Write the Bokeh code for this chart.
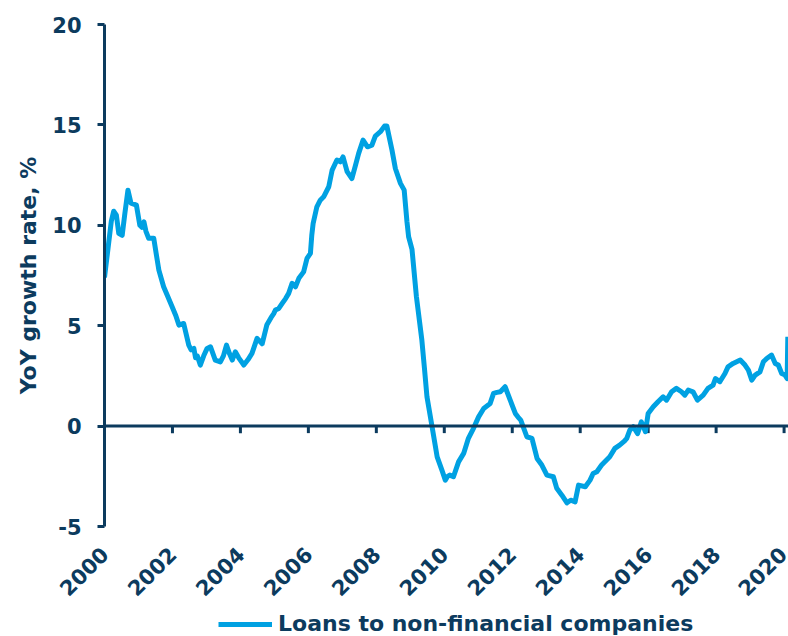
import math
from bokeh.plotting import figure
from bokeh.layouts import column
from bokeh.models import FixedTicker, Span, Legend, LegendItem, ColumnDataSource, Range1d
from bokeh.embed import file_html
from bokeh.resources import INLINE

# ---- data ----
years = [
    2000.00, 2000.10, 2000.20, 2000.27, 2000.35, 2000.42, 2000.52, 2000.60, 2000.69, 2000.78,
    2000.94, 2001.04, 2001.10, 2001.16, 2001.22, 2001.30, 2001.45, 2001.52, 2001.60, 2001.74,
    2001.85, 2001.99, 2002.10, 2002.19, 2002.33, 2002.48, 2002.55, 2002.63, 2002.68, 2002.73,
    2002.82, 2002.92, 2003.02, 2003.12, 2003.26, 2003.41, 2003.50, 2003.59, 2003.68, 2003.76,
    2003.85, 2003.95, 2004.10, 2004.22, 2004.34, 2004.49, 2004.64, 2004.78, 2004.90, 2004.98,
    2005.03, 2005.13, 2005.23, 2005.33, 2005.42, 2005.52, 2005.62, 2005.72, 2005.86, 2005.96,
    2006.06, 2006.10, 2006.14, 2006.25, 2006.35, 2006.45, 2006.60, 2006.70, 2006.84, 2006.94,
    2007.02, 2007.14, 2007.28, 2007.38, 2007.48, 2007.61, 2007.74, 2007.87, 2007.97, 2008.12,
    2008.24, 2008.31, 2008.46, 2008.56, 2008.71, 2008.82, 2008.90, 2008.95, 2009.05, 2009.18,
    2009.34, 2009.42, 2009.49, 2009.64, 2009.79, 2009.93, 2010.03, 2010.10, 2010.16, 2010.27,
    2010.42, 2010.57, 2010.71, 2010.86, 2011.01, 2011.16, 2011.35, 2011.45, 2011.55, 2011.65,
    2011.79, 2011.94, 2012.09, 2012.17, 2012.25, 2012.43, 2012.58, 2012.73, 2012.87, 2013.02,
    2013.21, 2013.31, 2013.46, 2013.61, 2013.72, 2013.85, 2013.95, 2014.15, 2014.29, 2014.38,
    2014.49, 2014.63, 2014.87, 2015.02, 2015.16, 2015.30, 2015.37, 2015.46, 2015.56, 2015.69,
    2015.80, 2015.92, 2016.00, 2016.15, 2016.29, 2016.44, 2016.54, 2016.69, 2016.83, 2016.98,
    2017.08, 2017.18, 2017.32, 2017.45, 2017.62, 2017.76, 2017.91, 2017.98, 2018.11, 2018.26,
    2018.35, 2018.50, 2018.71, 2018.85, 2018.95, 2019.05, 2019.15, 2019.29, 2019.39, 2019.49,
    2019.63, 2019.74, 2019.83, 2019.93, 2020.03, 2020.09, 2020.11,
]
loans_growth = [
    7.4, 8.8, 10.2, 10.7, 10.5, 9.6, 9.5, 10.6, 11.75, 11.1,
    11.0, 10.0, 9.9, 10.17, 9.7, 9.35, 9.35, 8.6, 7.77, 6.94,
    6.5, 5.94, 5.5, 5.03, 5.11, 4.03, 3.8, 3.87, 3.4, 3.5,
    3.04, 3.5, 3.87, 3.95, 3.29, 3.2, 3.5, 4.03, 3.6, 3.29,
    3.70, 3.4, 3.04, 3.3, 3.62, 4.37, 4.1, 5.05, 5.4, 5.6,
    5.78, 5.86, 6.11, 6.35, 6.61, 7.11, 6.94, 7.36, 7.68, 8.35,
    8.60, 9.5, 10.09, 10.92, 11.25, 11.42, 11.92, 12.75, 13.25, 13.16,
    13.41, 12.67, 12.33, 12.95, 13.58, 14.24, 13.91, 13.99, 14.44, 14.66,
    14.94, 14.94, 13.75, 12.83, 12.09, 11.75, 10.2, 9.43, 8.8, 6.44,
    4.28, 2.8, 1.46, -0.03, -1.53, -2.19, -2.69, -2.5, -2.44, -2.52,
    -1.78, -1.36, -0.61, -0.11, 0.46, 0.88, 1.13, 1.63, 1.68, 1.71,
    1.96, 1.29, 0.63, 0.45, 0.30, -0.53, -0.61, -1.61, -1.94, -2.44,
    -2.52, -3.10, -3.44, -3.82, -3.69, -3.77, -2.94, -3.02, -2.69, -2.36,
    -2.27, -1.94, -1.53, -1.11, -0.95, -0.75, -0.61, -0.20, -0.03, -0.37,
    0.21, -0.28, 0.63, 0.96, 1.21, 1.46, 1.29, 1.71, 1.88, 1.71,
    1.54, 1.79, 1.71, 1.29, 1.54, 1.88, 2.04, 2.37, 2.21, 2.62,
    2.95, 3.12, 3.29, 3.04, 2.79, 2.29, 2.54, 2.70, 3.20, 3.37,
    3.54, 3.12, 3.04, 2.62, 2.54, 2.37, 4.45,
]
x_ticks = [2000, 2002, 2004, 2006, 2008, 2010, 2012, 2014, 2016, 2018, 2020]
y_ticks = [-5, 0, 5, 10, 15, 20]
y_tick_labels = ["-5", "0", "5", "10", "15", "20"]
series_name = "Loans to non-financial companies"
y_title = "YoY growth rate, %"

NAVY = "#0C3B5E"
BLUE = "#00A1E2"
FONT = "DejaVu Sans"
LINE_STYLE = dict(line_color=BLUE, line_width=5, line_join="round")

p = figure(width=788, height=610, x_range=(2000, 2020.13), y_range=(-5, 20),
           output_backend="svg", toolbar_location=None,
           min_border_left=104, min_border_right=0, min_border_top=24, min_border_bottom=84)
p.outline_line_color = None
p.xgrid.visible = False
p.ygrid.visible = False

# y axis
ya = p.yaxis[0]
ya.ticker = FixedTicker(ticks=y_ticks)
ya.major_label_overrides = dict(zip(y_ticks, y_tick_labels))
ya.axis_line_color = NAVY
ya.axis_line_width = 3
ya.major_tick_line_color = NAVY
ya.major_tick_line_width = 3
ya.major_tick_out = 7
ya.major_tick_in = 0
ya.minor_tick_line_color = None
ya.major_label_text_font = FONT
ya.major_label_text_font_style = "bold"
ya.major_label_text_font_size = "21px"
ya.major_label_text_color = NAVY
ya.major_label_standoff = 16
ya.axis_label = y_title
ya.axis_label_text_font = FONT
ya.axis_label_text_font_style = "bold"
ya.axis_label_text_font_size = "22px"
ya.axis_label_text_color = NAVY
ya.axis_label_standoff = 8

# x axis (labels only, at bottom)
xa = p.xaxis[0]
xa.ticker = FixedTicker(ticks=x_ticks)
xa.axis_line_color = None
xa.major_tick_line_color = None
xa.minor_tick_line_color = None
xa.major_label_orientation = math.pi / 4
xa.major_label_text_font = FONT
xa.major_label_text_font_style = "bold"
xa.major_label_text_font_size = "21px"
xa.major_label_text_color = NAVY
xa.major_label_standoff = 18

# zero line with its ticks
p.add_layout(Span(location=0, dimension="width", line_color=NAVY, line_width=3))
tick_src = ColumnDataSource(dict(x=x_ticks, y0=[0] * len(x_ticks), y1=[-0.35] * len(x_ticks)))
p.segment(x0="x", y0="y0", x1="x", y1="y1", source=tick_src, line_color=NAVY, line_width=3)

src = ColumnDataSource(dict(x=years, y=loans_growth))
p.line("x", "y", source=src, **LINE_STYLE)

# legend strip below the chart (its key renderer shares the data, out of view)
lg = figure(width=788, height=26, x_range=Range1d(0, 1), y_range=Range1d(0, 1),
            output_backend="svg", toolbar_location=None,
            x_axis_location=None, y_axis_location=None,
            min_border_left=104, min_border_right=0, min_border_top=0, min_border_bottom=0)
lg.outline_line_color = None
lg.xgrid.visible = False
lg.ygrid.visible = False
key = lg.line("x", "y", source=src, **LINE_STYLE)
legend = Legend(items=[LegendItem(label=series_name, renderers=[key])],
                orientation="horizontal", location=(114, 0),
                border_line_color=None, background_fill_alpha=0,
                label_text_font=FONT, label_text_font_style="bold",
                label_text_font_size="22px", label_text_color=NAVY,
                glyph_width=54, glyph_height=20, label_standoff=6,
                padding=0, margin=0, spacing=0)
lg.add_layout(legend, "center")

layout = column(p, lg, spacing=0)
open("out.html", "w").write(file_html(layout, INLINE))
